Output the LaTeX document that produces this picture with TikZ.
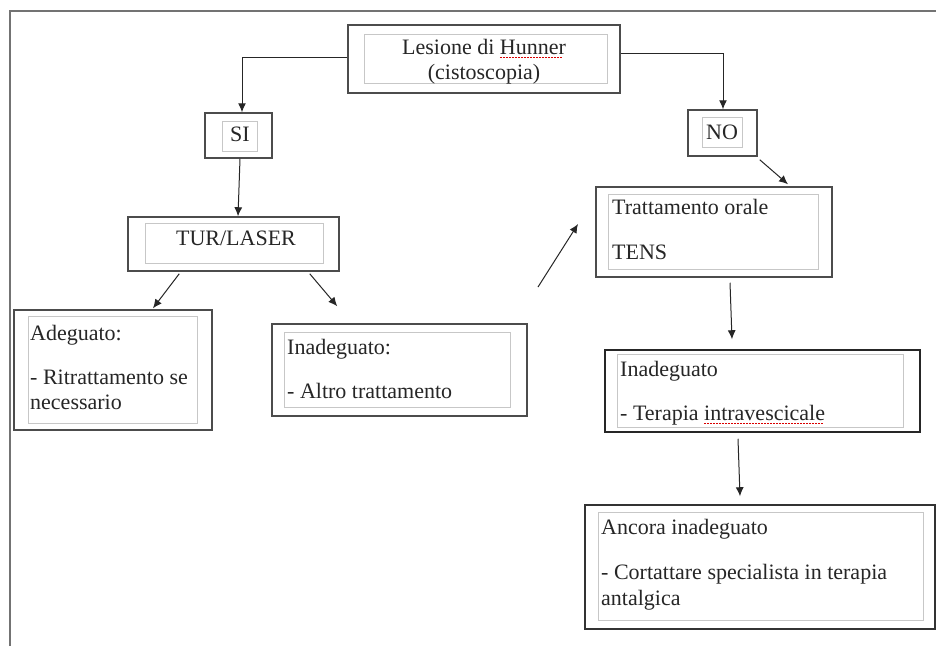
\documentclass[tikz,border=0pt]{standalone}
\usepackage{fontspec}
\setmainfont{Liberation Serif}
\usetikzlibrary{arrows.meta}
\newcommand\spl[1]{\setbox0\hbox{#1}\rlap{\lower4pt\hbox to\wd0{\color{red!85!black}\leaders\hbox{\rule{1.8pt}{1pt}\kern1.2pt}\hfill}}\box0}
\tikzset{
  boxo/.style={draw=black!70, line width=1.5pt, inner sep=0pt, fill=white},
  boxi/.style={draw=black!22, line width=0.7pt},
  txt/.style={inner sep=0pt, text=black!85, font=\fontsize{22}{25}\selectfont},
  arr/.style={draw=black!85, line width=1pt, -{Latex[length=9pt,width=8pt]}},
  frame/.style={draw=black!55, line width=1.2pt}
}
\begin{document}
\begin{tikzpicture}[x=1pt,y=-1pt]
\useasboundingbox (0,0) rectangle (936,646);
\fill[white] (0,0) rectangle (936,646);
% outer frame
\draw[frame] (10,646) -- (10,11) -- (936,11);

% boxes
\node[boxo, minimum width=272pt, minimum height=68pt] (top) at (484,59) {};
\node[boxo, minimum width=67pt, minimum height=45pt] (si) at (238.5,135.5) {};
\node[boxo, minimum width=69pt, minimum height=46pt] (no) at (722.5,133) {};
\node[boxo, minimum width=211pt, minimum height=54pt] (tur) at (233.5,244) {};
\node[boxo, minimum width=198pt, minimum height=120pt] (adeg) at (113,370) {};
\node[boxo, minimum width=255pt, minimum height=92pt] (inad) at (399.5,370) {};
\node[boxo, minimum width=236pt, minimum height=90pt] (tratt) at (714,232) {};
\node[boxo, draw=black!85, minimum width=315pt, minimum height=82pt] (inadd) at (762.5,391) {};
\node[boxo, draw=black!80, minimum width=350pt, minimum height=124pt] (ancora) at (760,567) {};

% inner rectangles
\draw[boxi] ([shift={(17,10)}]top.north west) rectangle ([shift={(-13,-10)}]top.south east);
\draw[boxi] ([shift={(18,9)}]si.north west) rectangle ([shift={(-15,-7)}]si.south east);
\draw[boxi] ([shift={(15,8)}]no.north west) rectangle ([shift={(-15,-9)}]no.south east);
\draw[boxi] ([shift={(18,7)}]tur.north west) rectangle ([shift={(-16,-8)}]tur.south east);
\draw[boxi] ([shift={(15,7)}]adeg.north west) rectangle ([shift={(-15,-7)}]adeg.south east);
\draw[boxi] ([shift={(13,9)}]inad.north west) rectangle ([shift={(-17,-9)}]inad.south east);
\draw[boxi] ([shift={(13,8)}]tratt.north west) rectangle ([shift={(-14,-8)}]tratt.south east);
\draw[boxi] ([shift={(13,5)}]inadd.north west) rectangle ([shift={(-17,-5)}]inadd.south east);
\draw[boxi] ([shift={(14,8)}]ancora.north west) rectangle ([shift={(-12,-9)}]ancora.south east);

% texts
\node[txt, anchor=base] (t1) at (484,54) {Lesione di \spl{Hunner}};
\node[txt, anchor=base] (t2) at (484,79) {(cistoscopia)};
\node[txt, anchor=base] (tsi) at (240,141) {SI};
\node[txt, anchor=base] (tno) at (722,139) {NO};
\node[txt, anchor=base] (ttur) at (236,245) {TUR/LASER};
\node[txt, anchor=base west] (ta1) at (30,340) {Adeguato:};
\node[txt, anchor=base west] (ta2) at (30,384) {- Ritrattamento se};
\node[txt, anchor=base west] (ta3) at (30,409) {necessario};
\node[txt, anchor=base west] (tb1) at (287,354) {Inadeguato:};
\node[txt, anchor=base west] (tb2) at (287,398) {- Altro trattamento};
\node[txt, anchor=base west] (tc1) at (612,214) {Trattamento orale};
\node[txt, anchor=base west] (tc2) at (612,259) {TENS};
\node[txt, anchor=base west] (td1) at (620,376) {Inadeguato};
\node[txt, anchor=base west] (td2) at (620,420) {- Terapia \spl{intravescicale}};
\node[txt, anchor=base west] (te1) at (601,534) {Ancora inadeguato};
\node[txt, anchor=base west] (te2) at (601,579) {- Cortattare specialista in terapia};
\node[txt, anchor=base west] (te3) at (601,605) {antalgica};

% connectors
\draw[arr] ([shift={(0,-2)}]top.west) -| ([shift={(3.5,0)}]si.north);
\draw[arr] ([shift={(0,-6)}]top.east) -| ([shift={(0.5,0)}]no.north);
\draw[arr] ([shift={(1.5,0)}]si.south) -- ([shift={(4.5,0)}]tur.north);
\draw[arr] ([shift={(52,2)}]tur.south west) -- ([shift={(40,-1)}]adeg.north);
\draw[arr] ([shift={(-30,2)}]tur.south east) -- ([shift={(66,-17)}]inad.north west);
\coordinate (f1) at (538,287);
\coordinate (f2) at (578,224);
\draw[arr] (f1) -- (f2);
\draw[arr] ([shift={(2,3)}]no.south east) -- ([shift={(74,-2)}]tratt.north);
\draw[arr] ([shift={(16,5)}]tratt.south) -- ([shift={(-30.5,-10)}]inadd.north);
\draw[arr] ([shift={(-24.5,6)}]inadd.south) -- ([shift={(-20,-8)}]ancora.north);
\end{tikzpicture}
\end{document}
